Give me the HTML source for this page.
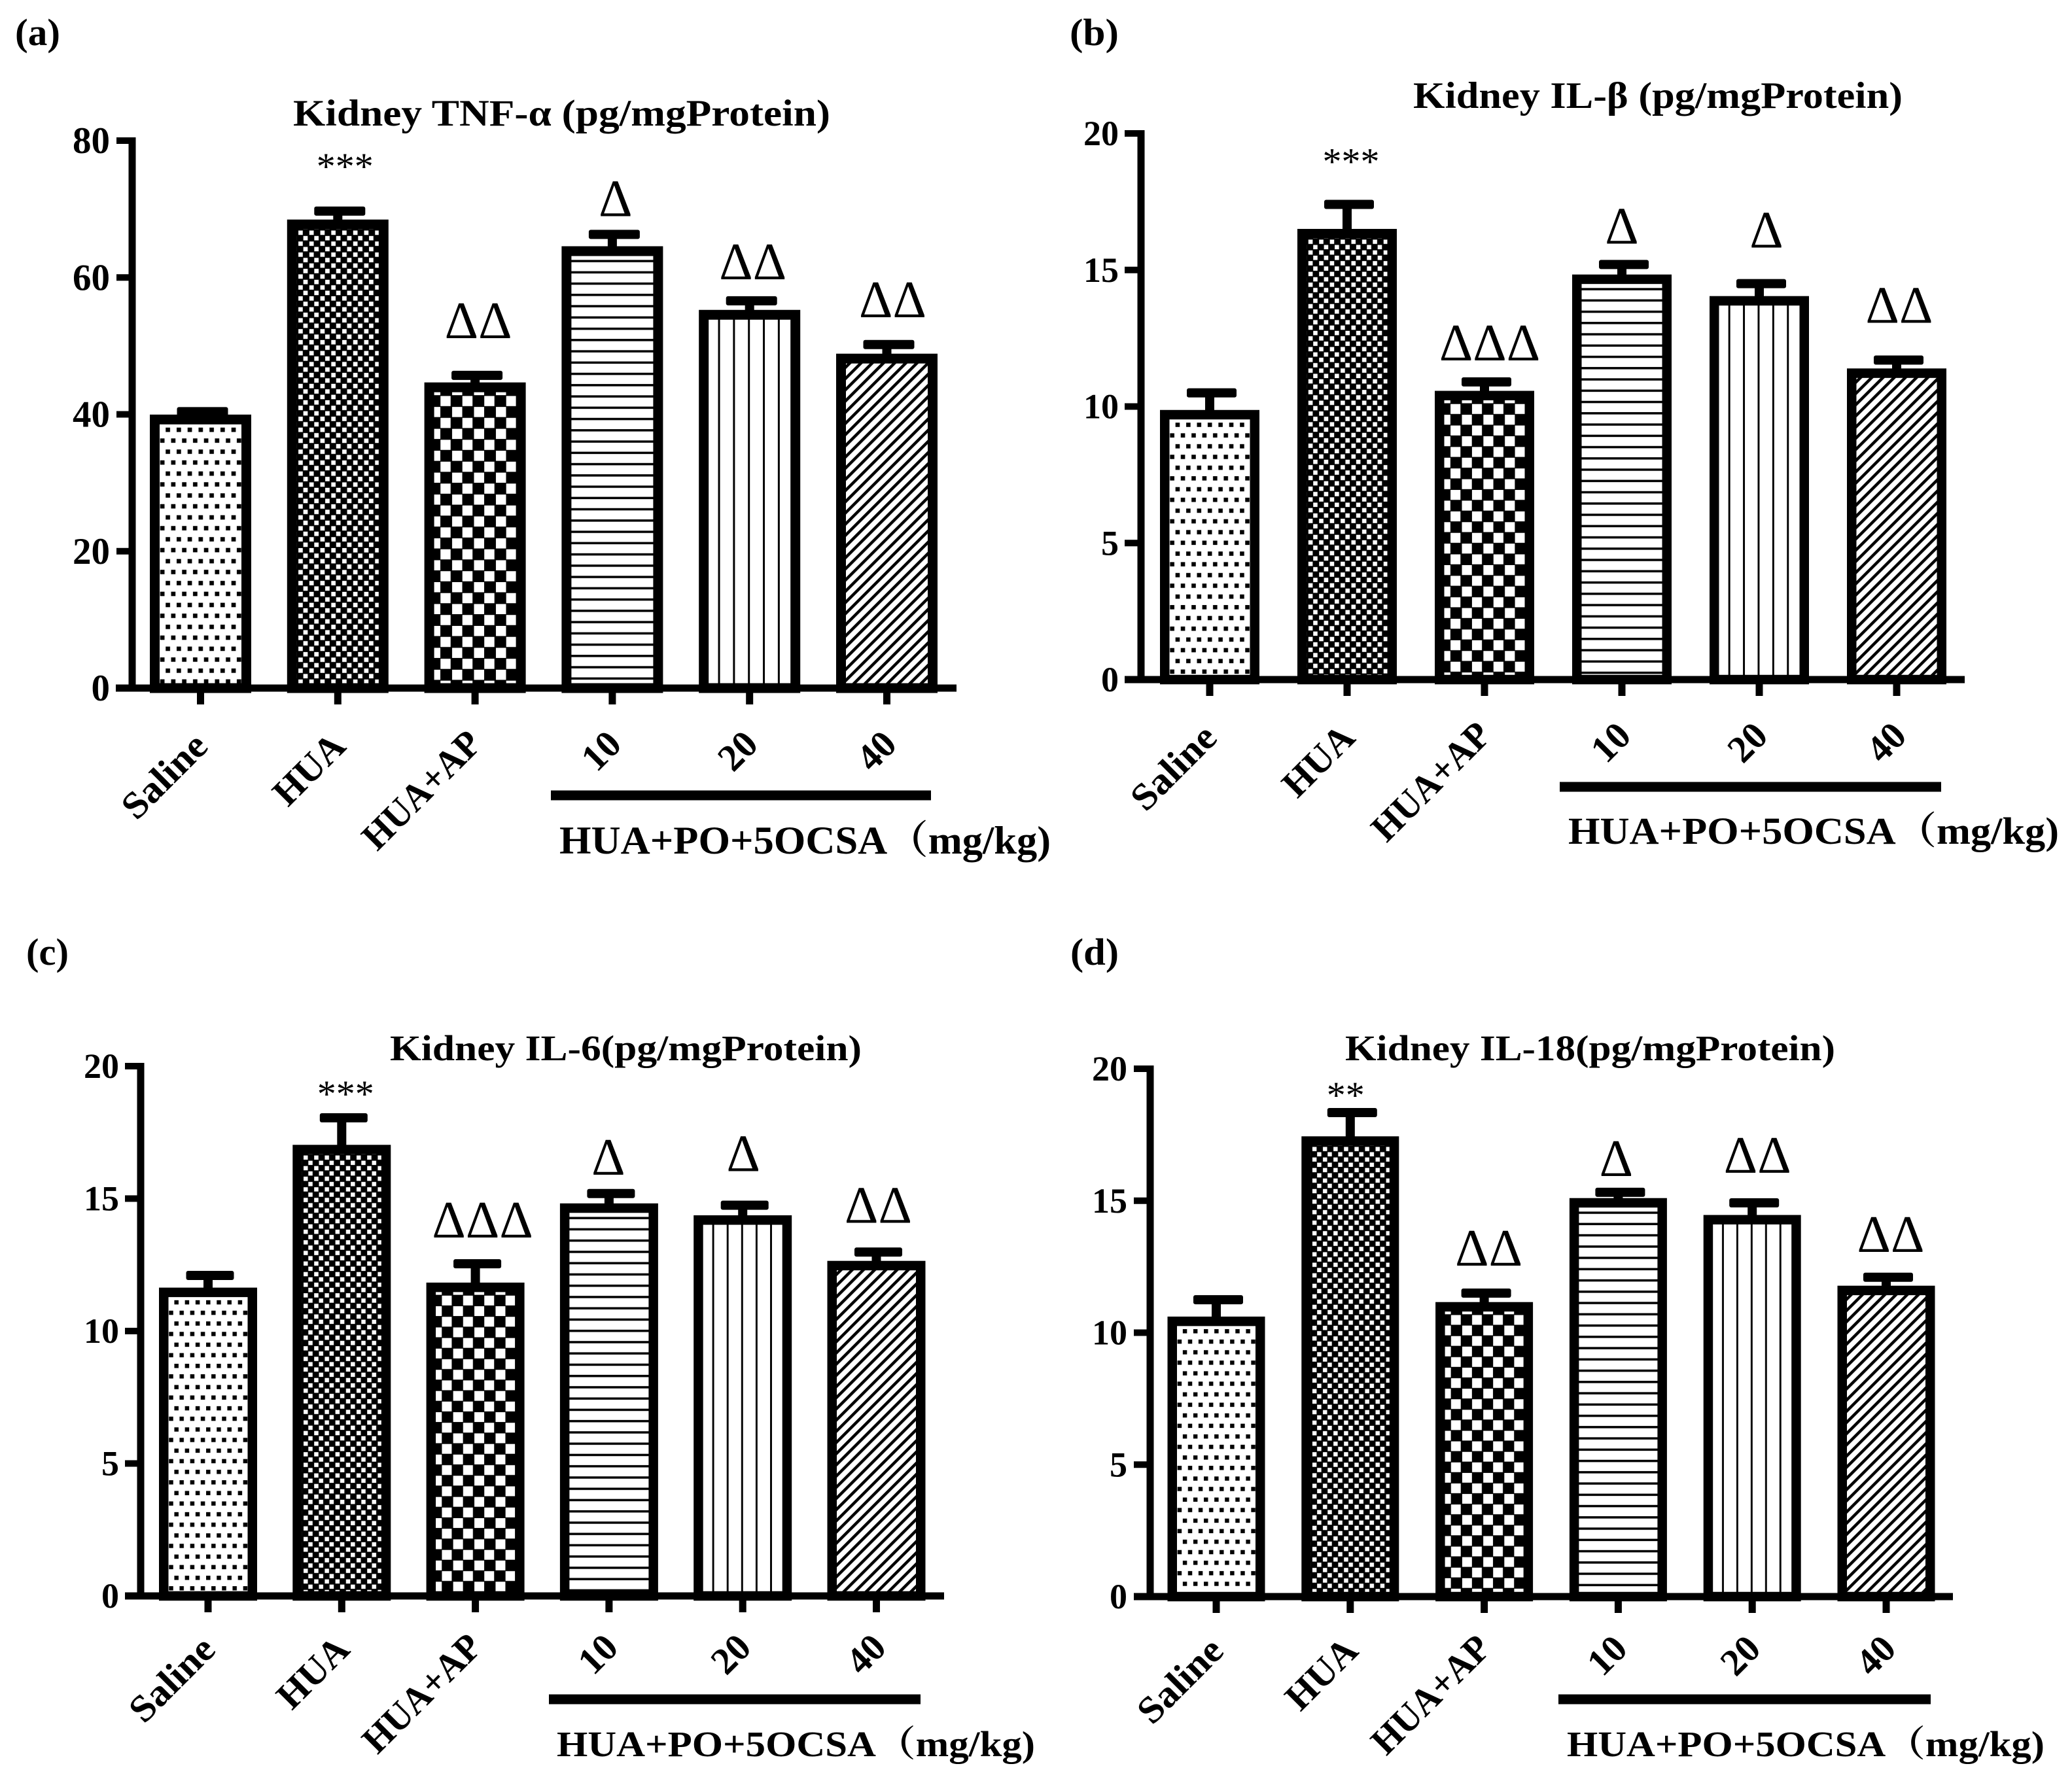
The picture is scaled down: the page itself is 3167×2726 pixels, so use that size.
<!DOCTYPE html>
<html lang="en">
<head>
<meta charset="utf-8">
<title>Kidney cytokine bar charts</title>
<style>
html,body{margin:0;padding:0;background:#fff;}
svg{display:block;}
text{font-family:"Liberation Serif","Noto Serif CJK SC",serif;fill:#000;}
</style>
</head>
<body>
<svg id="figure" xmlns="http://www.w3.org/2000/svg" width="3167" height="2726" viewBox="0 0 3167 2726">
  <rect x="0" y="0" width="3167" height="2726" fill="#fff"/>
  <defs id="pattern-defs"></defs>
</svg>
<script>
// ---- chart data ----
const categories = ['Saline', 'HUA', 'HUA+AP', '10', '20', '40'];
const fillKeys = ['dots', 'dense', 'check', 'horizontal', 'vertical', 'diagonal'];
const groupLabel = 'HUA+PO+5OCSA\uFF08mg/kg)';

const ticksA = [0, 20, 40, 60, 80];
const ticksOther = [0, 5, 10, 15, 20];

const valuesA = [39.25, 67.75, 43.95, 63.85, 54.55, 48.15];
const errorsA = [1.15, 1.95, 1.75, 2.45, 2.05, 2.05];
const marksA = ['', '***', '\u0394\u0394', '\u0394', '\u0394\u0394', '\u0394\u0394'];

const valuesB = [9.7, 16.33, 10.4, 14.66, 13.87, 11.22];
const errorsB = [0.8, 1.07, 0.5, 0.54, 0.63, 0.48];
const marksB = ['', '***', '\u0394\u0394\u0394', '\u0394', '\u0394', '\u0394\u0394'];

const valuesC = [11.46, 16.85, 11.65, 14.64, 14.19, 12.47];
const errorsC = [0.64, 1.2, 0.89, 0.55, 0.56, 0.51];
const marksC = ['', '***', '\u0394\u0394\u0394', '\u0394', '\u0394', '\u0394\u0394'];

const valuesD = [10.43, 17.26, 10.98, 14.92, 14.28, 11.6];
const errorsD = [0.82, 1.08, 0.52, 0.4, 0.64, 0.5];
const marksD = ['', '**', '\u0394\u0394', '\u0394', '\u0394\u0394', '\u0394\u0394'];

// ---- layout, separate from data ----
const panels = [
  {id:'a', letter:'(a)', title:'Kidney TNF-\u03B1 (pg/mgProtein)', values:valuesA, errors:errorsA, marks:marksA, ticks:ticksA, max:80,
   lx:23, lw:69, lb:69, ax:202, yTop:215, y0:1052, xL:177, xR:1462, tL:178, x0:306.5, step:209.8, bw:155, sw:15, capW:78,
   tx:448, tw:821, tb:192, tfs:57, nR:168, nfs:57,
   sx:842, sw2:581, sy:1216, gx:855, gw:751, gb:1305, gfs:60, catDy:92,
   dx:[0,11,5,5,5,9], gap:[0,49,57,28,33,42]},
  {id:'b', letter:'(b)', title:'Kidney IL-\u03B2 (pg/mgProtein)', values:valuesB, errors:errorsB, marks:marksB, ticks:ticksOther, max:20,
   lx:1635, lw:75, lb:69, ax:1744, yTop:204, y0:1039, xL:1719, xR:3003, tL:1719, x0:1849, step:210, bw:152, sw:14.5, capW:76,
   tx:2160, tw:748, tb:165, tfs:57, nR:1710, nfs:54,
   sx:2384, sw2:583, sy:1203, gx:2397, gw:750, gb:1290, gfs:58, catDy:92,
   dx:[0,6,8,0,11,4], gap:[0,46,33,32,55,57]},
  {id:'c', letter:'(c)', title:'Kidney IL-6(pg/mgProtein)', values:valuesC, errors:errorsC, marks:marksC, ticks:ticksOther, max:20,
   lx:40, lw:65, lb:1475, ax:215, yTop:1630, y0:2440, xL:191, xR:1443, tL:191, x0:318, step:204.3, bw:150, sw:14.5, capW:73,
   tx:596, tw:721, tb:1621, tfs:55, nR:182, nfs:54,
   sx:839, sw2:568, sy:2598, gx:851, gw:731, gb:2685, gfs:55, catDy:85,
   dx:[0,6,11,-1,1,3], gap:[0,17,40,29,52,45]},
  {id:'d', letter:'(d)', title:'Kidney IL-18(pg/mgProtein)', values:valuesD, errors:errorsD, marks:marksD, ticks:ticksOther, max:20,
   lx:1636, lw:74, lb:1475, ax:1758, yTop:1634, y0:2441, xL:1733, xR:2985, tL:1733, x0:1859, step:204.8, bw:149, sw:14.5, capW:76,
   tx:2056, tw:749, tb:1621, tfs:55, nR:1723, nfs:54,
   sx:2382, sw2:569, sy:2598, gx:2395, gw:730, gb:2685, gfs:55, catDy:86,
   dx:[0,-7,7,-3,8,7], gap:[0,7,42,25,46,39]}
];
const catDx = [14, 15, 13, 17, 16, 18];
const catDyShift = [0, 0, -4, -3, -3, -3];
const catLength = [158, 0, 230, 0, 0, 0];

const NS = 'http://www.w3.org/2000/svg';
const svg = document.getElementById('figure');
const defs = document.getElementById('pattern-defs');

function make(parent, tag, attrs, content) {
  const el = document.createElementNS(NS, tag);
  for (const k in attrs) el.setAttribute(k, attrs[k]);
  if (content !== undefined) el.textContent = content;
  parent.appendChild(el);
  return el;
}

// pattern tiles for one panel; k scales the tile with the panel's bar width
function addPatterns(id, k) {
  function tile(key, w, h, bg, fg, rects, transform) {
    const pat = make(defs, 'pattern', {id:'p-' + key + '-' + id, patternUnits:'userSpaceOnUse', width:w, height:h, patternTransform:transform});
    make(pat, 'rect', {x:0, y:0, width:w, height:h, fill:bg});
    rects.forEach(function (r) {
      make(pat, 'rect', {x:r[0], y:r[1], width:r[2], height:r[3], fill:fg});
    });
  }
  tile('dots', 16.2, 32.4, '#fff', '#000', [[0, 12, 6.5, 6.5], [8, 28, 6.5, 4.4], [8, 0, 6.5, 2.1]], 'scale(' + k + ')');
  tile('dense', 16.2, 16.2, '#000', '#fff', [[9.45, 9, 6.5, 6.5], [0.55, 0.85, 6.5, 6.5]], 'scale(' + k + ')');
  tile('check', 32.4, 32.4, '#000', '#fff', [[1.4, 0, 15, 15], [16.6, 16.2, 15, 15]], 'translate(0,-3.5) scale(' + k + ')');
  tile('horizontal', 20, 17.25, '#fff', '#000', [[0, 13.4, 20, 3.5]], 'translate(0,0)');
  tile('vertical', 22.1, 20, '#fff', '#000', [[19.2, 0, 3.7, 20]], 'translate(2,0) scale(' + k + ',1)');
  tile('diagonal', 12.1, 12.1, '#fff', '#000', [[0, 0, 4.5, 12.1]], 'rotate(45)');
}

panels.forEach(function (p) {
  addPatterns(p.id, p.bw / 150);

  const yScale = function (v) { return p.y0 - (v / p.max) * (p.y0 - p.yTop); };
  const xScale = function (i) { return p.x0 + i * p.step; };

  const g = make(svg, 'g', {});
  
  

  const letter = make(g, 'text', {x:p.lx, y:p.lb, 'font-size':58, 'font-weight':'bold', textLength:p.lw, lengthAdjust:'spacingAndGlyphs'}, p.letter);
  
  

  const title = make(g, 'text', {x:p.tx, y:p.tb, 'font-size':p.tfs, 'font-weight':'bold', textLength:p.tw, lengthAdjust:'spacingAndGlyphs'}, p.title);
  
  

  // bars
  p.values.forEach(function (v, i) {
    const cx = xScale(i);
    const top = yScale(v);
    const capY = yScale(v + p.errors[i]);

    const stem = make(g, 'rect', {x:cx - 7, y:capY, width:14, height:top - capY, fill:'#000'});
    
    

    const cap = make(g, 'rect', {x:cx - p.capW / 2 + 3, y:capY - 7, width:p.capW, height:14, rx:3, fill:'#000'});
    
    

    const barW = p.bw - p.sw;
    const holder = make(g, 'g', {transform:'translate(' + (cx - barW / 2) + ',' + top + ')'});
    const bar = make(holder, 'rect', {x:0, y:0, width:barW, height:p.y0 - top, fill:'url(#p-' + fillKeys[i] + '-' + p.id + ')', stroke:'#000', 'stroke-width':p.sw});
    
    

    if (p.marks[i]) {
      const isStar = p.marks[i].charAt(0) === '*';
      const mark = make(g, 'text', {x:cx + p.dx[i], y:capY - p.gap[i], 'text-anchor':'middle', 'font-size':isStar ? 58 : 80}, p.marks[i]);
      
      
    }

    const tick = make(g, 'rect', {x:cx - 5.5, y:p.y0, width:11, height:25, fill:'#000'});
    
    

    const ex = cx + catDx[i];
    const ey = p.y0 + p.catDy + catDyShift[i];
    const attrs = {x:ex, y:ey, 'text-anchor':'end', 'font-size':58, 'font-weight':'bold', transform:'rotate(-45 ' + ex + ' ' + ey + ')'};
    if (catLength[i]) {
      attrs.textLength = catLength[i];
      attrs.lengthAdjust = 'spacingAndGlyphs';
    }
    const label = make(g, 'text', attrs, categories[i]);
    
    
  });

  // axes
  const yAxis = make(g, 'rect', {x:p.ax - 5.5, y:p.yTop - 5, width:11, height:p.y0 - p.yTop + 10, fill:'#000'});
  
  

  const xAxis = make(g, 'rect', {x:p.xL, y:p.y0 - 5.5, width:p.xR - p.xL, height:11, fill:'#000'});
  
  

  p.ticks.forEach(function (t) {
    const y = yScale(t);
    const tick = make(g, 'rect', {x:p.tL, y:y - 5, width:p.ax - p.tL, height:10, fill:'#000'});
    
    
    const num = make(g, 'text', {x:p.nR, y:y + p.nfs * 0.335, 'text-anchor':'end', 'font-size':p.nfs, 'font-weight':'bold'}, String(t));
    
    
  });

  // dose group bracket + caption
  const sub = make(g, 'rect', {x:p.sx, y:p.sy - 7.5, width:p.sw2, height:15, fill:'#000'});
  
  

  const cap2 = make(g, 'text', {x:p.gx, y:p.gb, 'font-size':p.gfs, 'font-weight':'bold', textLength:p.gw, lengthAdjust:'spacingAndGlyphs'}, groupLabel);
  
  
});
</script>
</body>
</html>
